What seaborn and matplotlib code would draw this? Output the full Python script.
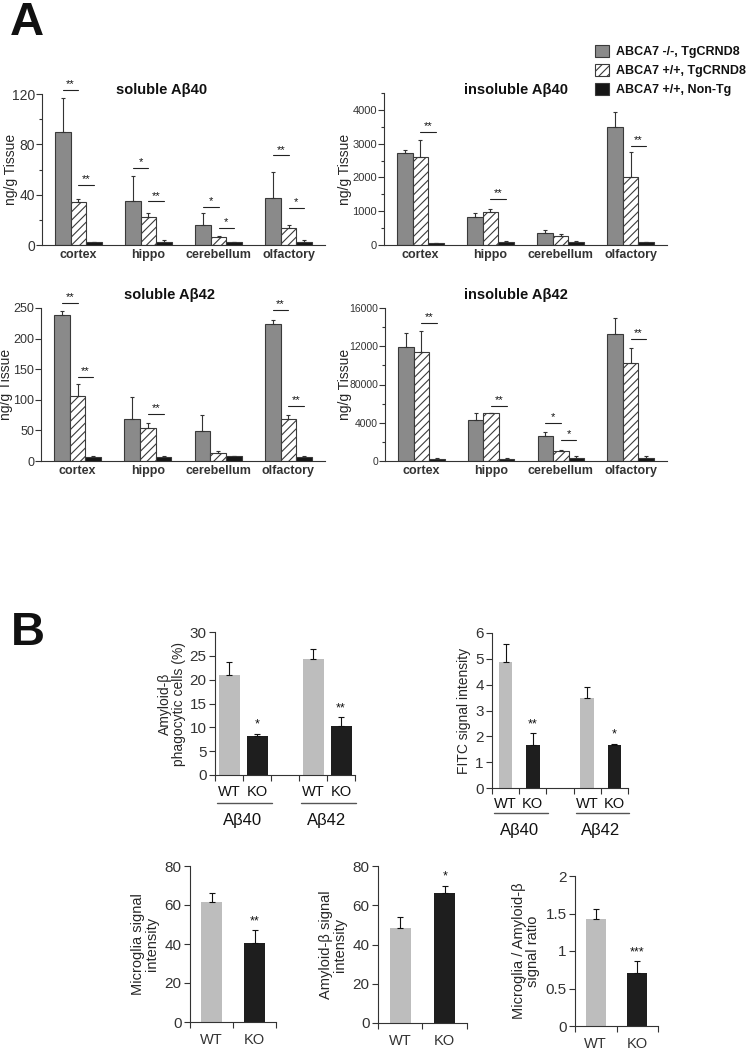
import numpy as np
import pandas as pd
import matplotlib
matplotlib.use("Agg")
import matplotlib.pyplot as plt
from matplotlib.patches import Patch
import seaborn as sns

# ---- data ----
regions = ["cortex", "hippo", "cerebellum", "olfactory"]
genotypes = ["ABCA7 -/-, TgCRND8", "ABCA7 +/+, TgCRND8", "ABCA7 +/+, Non-Tg"]

# rows: KO TgCRND8, WT TgCRND8, WT Non-Tg ; cols: regions
sol40_mean = [[89.5, 35.0, 16.2, 37.4], [33.9, 22.0, 6.4, 13.5], [2.0, 2.0, 2.0, 2.0]]
sol40_sem = [[27.0, 19.6, 9.0, 21.0], [3.0, 3.4, 1.0, 2.4], [0.3, 2.0, 0.5, 2.0]]
ins40_mean = [[2719, 821, 362, 3482], [2611, 978, 264, 2005], [45, 78, 100, 78]]
ins40_sem = [[90, 130, 70, 470], [510, 90, 50, 750], [10, 45, 10, 10]]
sol42_mean = [[239.3, 68.9, 49.2, 224.6], [105.5, 53.6, 13.7, 68.9], [6.0, 6.0, 7.6, 6.0]]
sol42_sem = [[6.5, 35.0, 26.0, 6.5], [20.0, 8.0, 2.7, 6.5], [2.5, 2.5, 0.8, 2.5]]
ins42_mean = [[11904, 4272, 2626, 13270], [11450, 4972, 1085, 10224], [245, 245, 350, 350]]
ins42_sem = [[1470, 770, 455, 1650], [2170, 70, 105, 1580], [60, 60, 210, 150]]

# significance bars: (region index, left genotype index, label, height)
sol40_sig = [(0, 0, "**", 123.4), (0, 1, "**", 48), (1, 0, "*", 61), (1, 1, "**", 34.7),
             (2, 0, "*", 30), (2, 1, "*", 13.5), (3, 0, "**", 71.3), (3, 1, "*", 29.4)]
ins40_sig = [(0, 1, "**", 3345), (1, 1, "**", 1359), (3, 1, "**", 2934)]
sol42_sig = [(0, 0, "**", 258), (0, 1, "**", 138), (1, 1, "**", 76.5),
             (3, 0, "**", 247), (3, 1, "**", 90)]
ins42_sig = [(0, 1, "**", 14426), (1, 1, "**", 5777), (2, 0, "*", 3991),
             (2, 1, "*", 2170), (3, 1, "**", 12745)]

# panel B
pair_groups = ["A\u03b240", "A\u03b242"]
pair_geno = ["WT", "KO", "WT", "KO"]
pair_pos = [0, 1, 3, 4]
phago_val = [21.0, 8.1, 24.4, 10.3]
phago_err = [2.8, 0.6, 2.1, 1.9]
phago_sig = ["", "*", "", "**"]
fitc_val = [4.86, 1.66, 3.5, 1.66]
fitc_err = [0.72, 0.48, 0.4, 0.06]
fitc_sig = ["", "**", "", "*"]

single_geno = ["WT", "KO"]
microglia_val = [61.6, 40.6]
microglia_err = [4.3, 6.5]
abeta_val = [48.2, 66.0]
abeta_err = [5.9, 4.0]
ratio_val = [1.425, 0.713]
ratio_err = [0.13, 0.156]

# ---- style ----
sns.set_style("ticks")
plt.rcParams["font.family"] = ["Liberation Sans", "DejaVu Sans"]
plt.rcParams["hatch.linewidth"] = 0.8
plt.rcParams["axes.linewidth"] = 0.8
plt.rcParams["axes.edgecolor"] = "#333333"
plt.rcParams["xtick.color"] = "#333333"
plt.rcParams["ytick.color"] = "#333333"
plt.rcParams["text.color"] = "#111111"

W, H = 749, 1050
fig = plt.figure(figsize=(W / 100, H / 100), dpi=100)


def add_ax(left, top, right, bottom):
    return fig.add_axes([left / W, 1 - bottom / H, (right - left) / W, (bottom - top) / H])


a_palette = dict(zip(genotypes, ["#8a8a8a", "white", "#161616"]))
b_palette = {"WT": "#bdbdbd", "KO": "#1e1e1e"}


def region_panel(ax, means, sems, sigs, title, tx, ty, ylim, major, minor, label_x,
                 tick_size, ticklabels=None):
    rows = []
    for g, geno in enumerate(genotypes):
        for r, reg in enumerate(regions):
            rows.append({"region": reg, "genotype": geno, "value": means[g][r]})
    df = pd.DataFrame(rows)
    sns.barplot(data=df, x="region", y="value", hue="genotype", order=regions,
                hue_order=genotypes, palette=a_palette, width=0.67, errorbar=None,
                legend=False, saturation=1, edgecolor="#3a3a3a", linewidth=0.8, ax=ax)
    bar_conts = list(ax.containers)
    centers = []
    for g, cont in enumerate(bar_conts):
        xs = [b.get_x() + b.get_width() / 2 for b in cont]
        centers.append(xs)
        if g == 1:
            for b in cont:
                b.set_hatch("////")
        ax.errorbar(xs, means[g], yerr=[np.zeros(len(xs)), sems[g]], fmt="none",
                    ecolor="#333333", elinewidth=0.8, capsize=1.2, capthick=0.8)
    for r, g, lab, y in sigs:
        x0, x1 = centers[g][r], centers[g + 1][r]
        ax.plot([x0, x1], [y, y], color="#222222", lw=0.8, clip_on=False)
        ax.annotate(lab, ((x0 + x1) / 2, y), xytext=(0, 0.5), textcoords="offset points",
                    ha="center", va="bottom", fontsize=8, annotation_clip=False)
    ax.set_xlim(-0.52, 3.52)
    ax.set_ylim(*ylim)
    ax.set_yticks(np.arange(ylim[0], ylim[1] + 1e-9, major))
    ax.set_yticks(np.arange(ylim[0], ylim[1] + 1e-9, minor), minor=True)
    if ticklabels is not None:
        ax.set_yticklabels(ticklabels)
    ax.tick_params(axis="y", which="major", direction="out", length=4, width=0.8,
                   labelsize=tick_size, pad=1)
    ax.tick_params(axis="y", which="minor", direction="out", length=2.5, width=0.8)
    ax.tick_params(axis="x", length=0, labelsize=9, pad=3)
    for t in ax.get_xticklabels():
        t.set_fontweight("bold")
    ax.set_xlabel("")
    ax.set_ylabel("ng/g Tissue", fontsize=10)
    ax.yaxis.set_label_coords(label_x, 0.5)
    ax.text(tx, ty, title, transform=ax.transAxes, ha="center", va="center",
            fontsize=10.5, fontweight="bold")
    sns.despine(ax=ax)


ax1 = add_ax(42, 94, 325, 245)
region_panel(ax1, sol40_mean, sol40_sem, sol40_sig, "soluble A\u03b240", 0.424, 1.026,
             (0, 120), 40, 20, -0.085, 10)
ax2 = add_ax(384, 93, 667, 245)
region_panel(ax2, ins40_mean, ins40_sem, ins40_sig, "insoluble A\u03b240", 0.466, 1.02,
             (0, 4500), 1000, 500, -0.113, 8)
ax2.set_yticks(np.arange(0, 4001, 1000))
ax3 = add_ax(41, 308, 325, 461)
region_panel(ax3, sol42_mean, sol42_sem, sol42_sig, "soluble A\u03b242", 0.454, 1.085,
             (0, 250), 50, 50, -0.097, 9)
ax4 = add_ax(385, 308, 667, 461)
region_panel(ax4, ins42_mean, ins42_sem, ins42_sig, "insoluble A\u03b242", 0.463, 1.085,
             (0, 16000), 4000, 2000, -0.117, 7.5, ["0", "4000", "80000", "12000", "16000"])

handles = [Patch(facecolor=a_palette[g], edgecolor="#3a3a3a", hatch="////" if i == 1 else None,
                 linewidth=0.8, label=g) for i, g in enumerate(genotypes)]
fig.legend(handles=handles, loc="upper left", bbox_to_anchor=(595 / W, 1 - 45 / H),
           frameon=False, prop={"weight": "bold", "size": 9}, handlelength=1.1,
           handleheight=1.1, handletextpad=0.6, labelspacing=0.45, borderpad=0,
           borderaxespad=0)

fig.text(10 / W, 1 - 35 / H, "A", fontsize=34, fontweight="bold", va="baseline")
fig.text(11 / W, 1 - 645 / H, "B", fontsize=34, fontweight="bold", va="baseline")


def sig_marks(ax, xs, vals, errs, labs, size=9):
    for x, v, e, lab in zip(xs, vals, errs, labs):
        if lab:
            ax.annotate(lab, (x, v + e), xytext=(0, 2), textcoords="offset points",
                        ha="center", va="bottom", fontsize=size)


def pair_panel(ax, vals, errs, sigs, width, ylim, step, ylabel, lab_off, line_off, grp_off):
    df = pd.DataFrame({"pos": pair_pos, "val": vals, "geno": pair_geno})
    sns.barplot(data=df, x="pos", y="val", hue="geno", palette=b_palette, native_scale=True,
                width=width, errorbar=None, legend=False, saturation=1, linewidth=0, ax=ax)
    ax.errorbar(pair_pos, vals, yerr=[np.zeros(4), errs], fmt="none", ecolor="#111111",
                elinewidth=0.8, capsize=2.5, capthick=0.8)
    sig_marks(ax, pair_pos, vals, errs, sigs)
    ax.set_xlim(-0.5, 4.5)
    ax.set_ylim(*ylim)
    ax.set_yticks(np.arange(ylim[0], ylim[1] + 1e-9, step))
    ax.set_xticks(np.arange(-0.5, 4.6, 1.0))
    ax.set_xticklabels([])
    ax.tick_params(axis="both", direction="out", length=4, width=0.8, labelsize=11, pad=2)
    ax.set_xlabel("")
    ax.set_ylabel(ylabel, fontsize=10, labelpad=3, linespacing=1.0)
    tr = ax.get_xaxis_transform()
    ax_h = ax.get_position().height * H
    for p, g in zip(pair_pos, pair_geno):
        ax.annotate(g, (p, 0), xycoords=tr, xytext=(0, -lab_off * 0.72), textcoords="offset points",
                    ha="center", va="center", fontsize=10.5, annotation_clip=False)
    for k, grp in enumerate(pair_groups):
        x0, x1 = pair_pos[2 * k], pair_pos[2 * k + 1]
        line_y = -line_off / ax_h
        ax.plot([x0 - 0.42, x1 + 0.55], [line_y, line_y], transform=tr, color="#555555",
                lw=1.0, clip_on=False)
        ax.annotate(grp, ((x0 + x1) / 2, 0), xycoords=tr, xytext=(0, -grp_off * 0.72),
                    textcoords="offset points", ha="center", va="center", fontsize=12,
                    annotation_clip=False)
    sns.despine(ax=ax)


b1 = add_ax(215, 632, 355, 775)
pair_panel(b1, phago_val, phago_err, phago_sig, 0.75, (0, 30), 5,
           "Amyloid-\u03b2\nphagocytic cells (%)", 17, 28, 46)
b2 = add_ax(492, 633, 628, 788)
pair_panel(b2, fitc_val, fitc_err, fitc_sig, 0.5, (0, 6), 1,
           "FITC signal intensity", 16, 25, 42)


def single_panel(ax, vals, errs, lab, ylim, ticks, ticklabels, ylabel):
    df = pd.DataFrame({"geno": single_geno, "val": vals})
    sns.barplot(data=df, x="geno", y="val", hue="geno", palette=b_palette, width=0.48,
                errorbar=None, legend=False, saturation=1, linewidth=0, ax=ax)
    ax.errorbar([0, 1], vals, yerr=[np.zeros(2), errs], fmt="none", ecolor="#111111",
                elinewidth=0.8, capsize=2.5, capthick=0.8)
    sig_marks(ax, [0, 1], vals, errs, ["", lab])
    ax.set_xlim(-0.5, 1.5)
    ax.set_ylim(*ylim)
    ax.set_yticks(ticks)
    ax.set_yticklabels(ticklabels)
    ax.set_xticks([-0.5, 0.5, 1.5])
    ax.set_xticklabels([])
    ax.set_xticks([0, 1], minor=True)
    ax.set_xticklabels(single_geno, minor=True)
    ax.tick_params(axis="both", which="major", direction="out", length=4, width=0.8,
                   labelsize=11, pad=2)
    ax.tick_params(axis="x", which="minor", length=0, labelsize=10.5, pad=8)
    ax.set_xlabel("")
    ax.set_ylabel(ylabel, fontsize=10.5, labelpad=4, linespacing=1.0)
    sns.despine(ax=ax)


b3 = add_ax(190, 866, 276, 1022)
single_panel(b3, microglia_val, microglia_err, "**", (0, 80), [0, 20, 40, 60, 80],
             ["0", "20", "40", "60", "80"], "Microglia signal\nintensity")
b4 = add_ax(378, 866, 467, 1023)
single_panel(b4, abeta_val, abeta_err, "*", (0, 80), [0, 20, 40, 60, 80],
             ["0", "20", "40", "60", "80"], "Amyloid-\u03b2 signal\nintensity")
b5 = add_ax(575, 876, 658, 1026)
single_panel(b5, ratio_val, ratio_err, "***", (0, 2), [0, 0.5, 1, 1.5, 2],
             ["0", "0.5", "1", "1.5", "2"], "Microglia / Amyloid-\u03b2\nsignal ratio")

fig.savefig("out.png", dpi=100)
